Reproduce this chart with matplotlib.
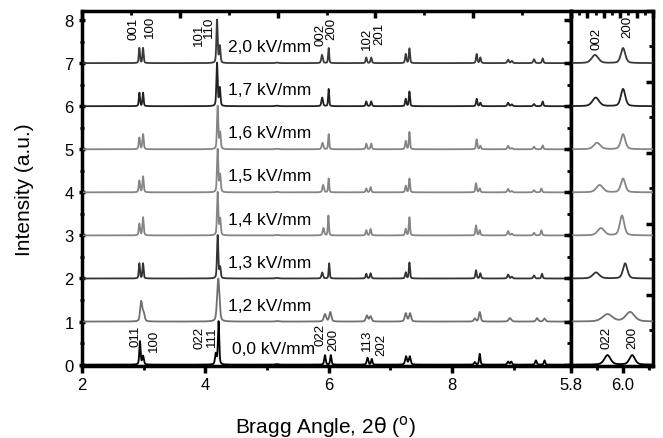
#Difractogramas DRX bajo campo electrico, con ampliacion de la zona 002/200
import numpy as np
import matplotlib.pyplot as plt
from matplotlib import ticker as tick

plt.rcParams['font.family'] = ['Liberation Sans', 'DejaVu Sans']

#etiquetas, desplazamientos y colores de cada curva
campos = ['0,0 kV/mm', '1,2 kV/mm', '1,3 kV/mm', '1,4 kV/mm',
          '1,5 kV/mm', '1,6 kV/mm', '1,7 kV/mm', '2,0 kV/mm']
desplaz = [0, 1, 2, 3, 4, 5, 6, 7]
colores = ['#000000', '#707070', '#333333', '#858585',
           '#858585', '#858585', '#222222', '#3a3a3a']

#picos: (posicion 2theta, altura, anchura)
picos_00 = [(2.94, 0.54, 0.025), (2.99, 0.20, 0.03), (4.17, 0.25, 0.03), (4.215, 1.0, 0.025),
            (5.16, 0.012, 0.06), (5.94, 0.22, 0.028), (6.035, 0.22, 0.025), (6.63, 0.16, 0.03),
            (6.70, 0.13, 0.025), (7.255, 0.19, 0.035), (7.315, 0.19, 0.035), (8.37, 0.06, 0.03),
            (8.45, 0.25, 0.025), (8.91, 0.07, 0.03), (8.96, 0.07, 0.03), (9.36, 0.10, 0.03),
            (9.50, 0.10, 0.025)]
picos_12 = [(2.96, 0.46, 0.04), (3.00, 0.18, 0.04), (4.21, 1.0, 0.045), (5.16, 0.012, 0.06),
            (5.94, 0.17, 0.045), (6.027, 0.22, 0.04), (6.62, 0.14, 0.04), (6.68, 0.12, 0.04),
            (7.25, 0.19, 0.04), (7.32, 0.19, 0.04), (8.37, 0.07, 0.04), (8.45, 0.22, 0.035),
            (8.94, 0.08, 0.05), (9.38, 0.08, 0.04), (9.50, 0.07, 0.04)]
picos_13 = [(2.93, 0.35, 0.022), (2.99, 0.35, 0.022), (4.20, 1.0, 0.025), (4.24, 0.25, 0.025),
            (5.16, 0.012, 0.06), (5.896, 0.14, 0.03), (6.008, 0.35, 0.02), (6.61, 0.11, 0.025),
            (6.68, 0.12, 0.025), (7.25, 0.14, 0.025), (7.31, 0.37, 0.022), (8.39, 0.19, 0.025),
            (8.46, 0.12, 0.025), (8.91, 0.09, 0.03), (8.97, 0.04, 0.03), (9.33, 0.07, 0.03),
            (9.46, 0.11, 0.025)]
picos_14 = [(2.93, 0.27, 0.025), (2.99, 0.42, 0.025), (4.20, 1.0, 0.025), (4.24, 0.38, 0.025),
            (5.16, 0.012, 0.06), (5.915, 0.17, 0.03), (5.996, 0.46, 0.02), (6.61, 0.12, 0.025),
            (6.68, 0.15, 0.025), (7.25, 0.15, 0.025), (7.31, 0.42, 0.022), (8.39, 0.23, 0.025),
            (8.45, 0.12, 0.025), (8.91, 0.10, 0.03), (8.97, 0.04, 0.03), (9.33, 0.06, 0.03),
            (9.45, 0.12, 0.025)]
picos_15 = [(2.93, 0.27, 0.025), (2.99, 0.37, 0.025), (4.20, 1.0, 0.025), (4.24, 0.40, 0.025),
            (5.16, 0.012, 0.06), (5.91, 0.17, 0.03), (6.00, 0.32, 0.02), (6.61, 0.09, 0.025),
            (6.68, 0.12, 0.025), (7.25, 0.15, 0.025), (7.31, 0.32, 0.022), (8.39, 0.21, 0.025),
            (8.45, 0.09, 0.025), (8.91, 0.08, 0.03), (8.97, 0.03, 0.03), (9.33, 0.05, 0.03),
            (9.45, 0.09, 0.025)]
picos_16 = [(2.93, 0.27, 0.025), (2.99, 0.35, 0.025), (4.20, 1.0, 0.025), (4.24, 0.38, 0.025),
            (5.16, 0.012, 0.06), (5.90, 0.15, 0.03), (6.00, 0.35, 0.02), (6.61, 0.13, 0.025),
            (6.69, 0.13, 0.025), (7.25, 0.19, 0.025), (7.31, 0.40, 0.022), (8.40, 0.23, 0.025),
            (8.46, 0.08, 0.025), (8.91, 0.08, 0.03), (8.97, 0.03, 0.03), (9.33, 0.06, 0.03),
            (9.47, 0.09, 0.025)]
picos_17 = [(2.93, 0.31, 0.022), (2.99, 0.31, 0.022), (4.19, 1.0, 0.025), (4.235, 0.42, 0.025),
            (5.16, 0.012, 0.06), (5.895, 0.20, 0.03), (6.00, 0.40, 0.02), (6.61, 0.11, 0.025),
            (6.69, 0.11, 0.025), (7.25, 0.17, 0.025), (7.31, 0.34, 0.022), (8.40, 0.17, 0.025),
            (8.46, 0.08, 0.025), (8.91, 0.08, 0.03), (8.97, 0.04, 0.03), (9.33, 0.05, 0.03),
            (9.47, 0.11, 0.025)]
picos_20 = [(2.93, 0.35, 0.022), (2.99, 0.35, 0.022), (4.19, 1.0, 0.025), (4.235, 0.39, 0.025),
            (5.16, 0.012, 0.06), (5.892, 0.19, 0.03), (6.00, 0.35, 0.02), (6.61, 0.13, 0.025),
            (6.69, 0.13, 0.025), (7.25, 0.21, 0.025), (7.31, 0.34, 0.022), (8.40, 0.21, 0.025),
            (8.46, 0.13, 0.025), (8.91, 0.08, 0.03), (8.97, 0.05, 0.03), (9.33, 0.09, 0.03),
            (9.47, 0.11, 0.025)]
picos = [picos_00, picos_12, picos_13, picos_14, picos_15, picos_16, picos_17, picos_20]

#indices de Miller: (texto, x, y)
hkl_arriba = [('001', 2.83, 7.55), ('100', 3.10, 7.6), ('101', 3.89, 7.43), ('110', 4.06, 7.6),
              ('002', 5.87, 7.43), ('200', 6.05, 7.57), ('102', 6.62, 7.32), ('201', 6.82, 7.44)]
hkl_abajo = [('011', 2.86, 0.43), ('100', 3.17, 0.31), ('022', 3.90, 0.38), ('111', 4.10, 0.43),
             ('022', 5.87, 0.45), ('200', 6.08, 0.34), ('113', 6.62, 0.34), ('202', 6.86, 0.22)]
hkl_zoom = [('002', 5.899, 7.33), ('200', 6.017, 7.6), ('022', 5.937, 0.38), ('200', 6.036, 0.38)]


def perfil(x, lista):
    #suma de picos pseudo-Voigt
    y = np.zeros_like(x)
    for pos, alt, fw in lista:
        g = np.exp(-4 * np.log(2) * ((x - pos) / fw) ** 2)
        l = 1 / (1 + 4 * ((x - pos) / fw) ** 2)
        y += alt * (0.6 * g + 0.4 * l)
    return y


x = np.arange(2.0, 9.95, 0.001)

fig = plt.figure(figsize=(6.63, 4.39), dpi=100)
ax = fig.add_axes([82 / 663, 1 - 366.5 / 439, 489 / 663, 354.5 / 439])
az = fig.add_axes([571 / 663, 1 - 366.5 / 439, 82 / 663, 354.5 / 439], sharey=ax)

for i in range(len(campos)):
    y = perfil(x, picos[i]) + desplaz[i]
    ax.plot(x, y, color=colores[i], lw=1.3, zorder=3)
    az.plot(x, y, color=colores[i], lw=1.3, zorder=3)
    xt = 4.44 if i == 0 else 4.36
    ax.text(xt, desplaz[i] + 0.38, campos[i], fontsize=12.5, va='center', ha='left')

for t, xx, yy in hkl_arriba + hkl_abajo:
    ax.text(xx, yy, t, rotation=90, fontsize=9.5, ha='center', va='bottom')
for t, xx, yy in hkl_zoom:
    az.text(xx, yy, t, rotation=90, fontsize=9.5, ha='center', va='bottom')

ax.set_xlim(2, 9.93)
ax.set_ylim(-0.02, 8.21)
az.set_xlim(5.8, 6.115)

for a in (ax, az):
    for s in a.spines.values():
        s.set_linewidth(2.5)

ax.xaxis.set_major_locator(tick.MultipleLocator(2))
ax.xaxis.set_minor_locator(tick.MultipleLocator(1))
ax.yaxis.set_major_locator(tick.MultipleLocator(1))
ax.yaxis.set_minor_locator(tick.MultipleLocator(0.5))
ax.tick_params(which='major', direction='out', length=5, width=2.5, labelsize=12)
ax.tick_params(which='minor', direction='out', length=3, width=2)
ax.tick_params(axis='y', which='both', right=True, labelright=False)
ax.tick_params(axis='y', which='both', direction='inout')

az.xaxis.set_major_locator(tick.MultipleLocator(0.2))
az.xaxis.set_minor_locator(tick.MultipleLocator(0.1))
az.xaxis.set_major_formatter(tick.FormatStrFormatter('%.1f'))
az.tick_params(which='major', direction='out', length=5, width=2.5, labelsize=12)
az.tick_params(which='minor', direction='out', length=3, width=2)
az.tick_params(axis='y', which='both', left=False, labelleft=False)

#ejes secundarios solo para las marcas de arriba y de la derecha
top = ax.twiny()
top.set_xlim(0, 10)
top.xaxis.set_major_locator(tick.MultipleLocator(2))
top.xaxis.set_minor_locator(tick.MultipleLocator(1))
top.tick_params(which='major', direction='in', length=5, width=2.5, labeltop=False)
top.tick_params(which='minor', direction='in', length=3, width=2)

topz = az.twiny()
topz.set_xlim(0, 10)
topz.xaxis.set_major_locator(tick.MultipleLocator(2))
topz.xaxis.set_minor_locator(tick.MultipleLocator(1))
topz.tick_params(which='major', direction='in', length=5, width=2.5, labeltop=False)
topz.tick_params(which='minor', direction='in', length=3, width=2)

derz = az.twinx()
derz.set_ylim(0, 10)
derz.yaxis.set_major_locator(tick.MultipleLocator(2))
derz.yaxis.set_minor_locator(tick.MultipleLocator(1))
derz.tick_params(which='major', direction='in', length=5, width=2.5, labelright=False)
derz.tick_params(which='minor', direction='in', length=3, width=2)

fig.text(326 / 663, 1 - 427 / 439, r'Bragg Angle, 2$\mathrm{\theta}$ ($^\mathrm{o}$)',
         fontsize=15, ha='center', va='center')
fig.text(25 / 663, 1 - 190 / 439, 'Intensity (a.u.)', fontsize=15,
         rotation=90, ha='center', va='center')

fig.savefig('out.png', dpi=100)
